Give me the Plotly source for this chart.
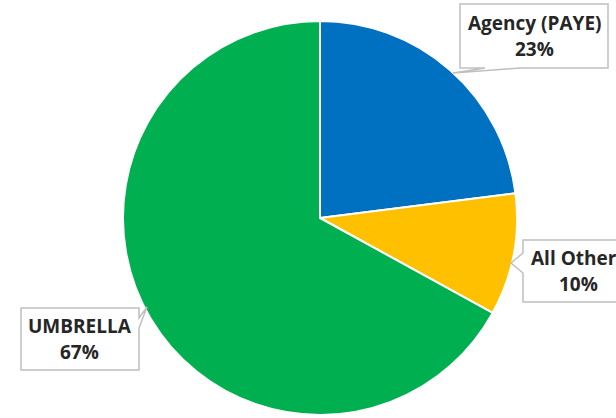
import plotly.graph_objects as go

# Worker engagement mix
labels = ["Agency (PAYE)", "All Others", "UMBRELLA"]
values = [23, 10, 67]
colors = ["#0070C0", "#FFC000", "#00B050"]

W, H = 616, 418

# Callout boxes in pixel space: (left, top, right, bottom), wedge side, wedge base, wedge tip
callouts = [
    dict(box=(460, 4, 608, 68), side="bottom", base=(485, 520), tip=(453, 73)),
    dict(box=(523, 240, 634, 302), side="left", base=(253, 273), tip=(511, 263)),
    dict(box=(21, 308, 139, 370), side="right", base=(318, 328), tip=(147, 307)),
]


def px(x, y):
    return f"{x / W:.5f},{1 - y / H:.5f}"


def callout_path(c):
    l, t, r, b = c["box"]
    b0, b1 = c["base"]
    tx, ty = c["tip"]
    if c["side"] == "bottom":
        pts = [(l, t), (r, t), (r, b), (b1, b), (tx, ty), (b0, b), (l, b)]
    elif c["side"] == "left":
        pts = [(l, t), (r, t), (r, b), (l, b), (l, b1), (tx, ty), (l, b0)]
    else:
        pts = [(l, t), (r, t), (r, b0), (tx, ty), (r, b1), (r, b), (l, b)]
    return "M" + " L".join(px(x, y) for x, y in pts) + " Z"


fig = go.Figure(
    go.Pie(
        labels=labels,
        values=values,
        sort=False,
        direction="clockwise",
        rotation=0,
        marker=dict(colors=colors, line=dict(color="white", width=2)),
        textinfo="none",
        hoverinfo="label+percent",
        showlegend=False,
        domain=dict(x=[(320 - 197) / W, (320 + 197) / W], y=[3 / H, 397 / H]),
    )
)

shapes = []
annotations = []
font = dict(family="Open Sans", size=19, color="#262626")
for c, lab, v in zip(callouts, labels, values):
    shapes.append(
        dict(
            type="path",
            xref="paper",
            yref="paper",
            path=callout_path(c),
            fillcolor="white",
            line=dict(color="#BFBFBF", width=1.5),
            layer="above",
        )
    )
    l, t, r, b = c["box"]
    cx = (l + r) / 2
    cy = (t + b) / 2
    for text, dy in ((f"<b>{lab}</b>", -13), (f"<b>{v}%</b>", 13)):
        annotations.append(
            dict(
                xref="paper",
                yref="paper",
                x=cx / W,
                y=1 - (cy + dy) / H,
                text=text,
                showarrow=False,
                xanchor="center",
                yanchor="middle",
                align="center",
                font=font,
            )
        )

fig.update_layout(
    width=W,
    height=H,
    margin=dict(l=0, r=0, t=0, b=0),
    paper_bgcolor="white",
    plot_bgcolor="white",
    shapes=shapes,
    annotations=annotations,
)

fig.write_html("out.html")
